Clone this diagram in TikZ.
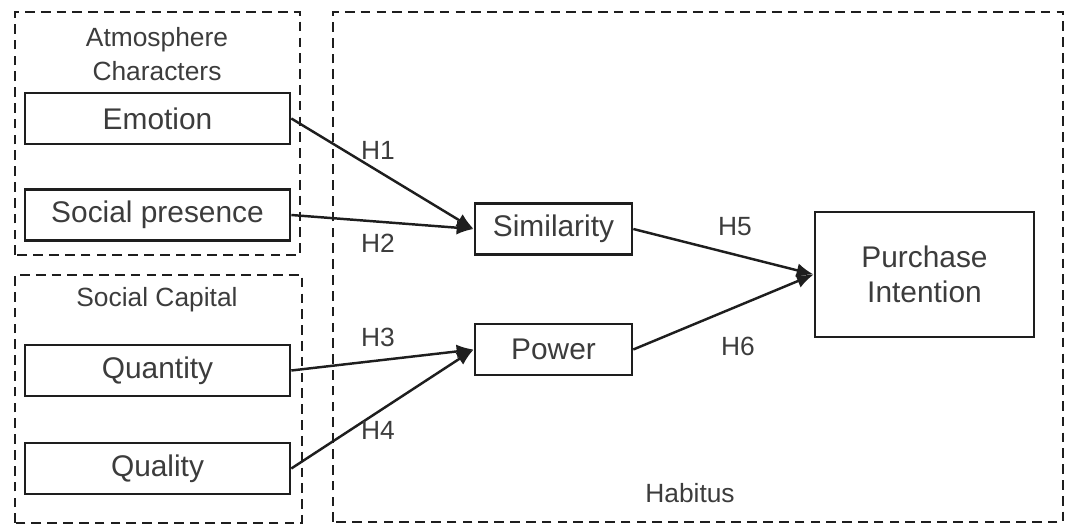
\documentclass[tikz,border=0pt]{standalone}
\usepackage{fontspec}
\setmainfont{Liberation Sans}
\usepackage{xcolor}
\definecolor{hbtext}{RGB}{60,60,60}
\definecolor{hbline}{RGB}{30,30,30}
\usetikzlibrary{arrows.meta,positioning}
\tikzset{
  varbox/.style={draw=hbline, line width=1.5pt, font=\fontsize{17}{20}\selectfont,
                 text=hbtext, minimum width=#1, minimum height=1.02cm, inner sep=2pt},
  groupbox/.style={draw=hbline, line width=1.4pt, dash pattern=on 5.5pt off 3.5pt},
  grouplabel/.style={font=\fontsize{15}{18}\selectfont, text=hbtext, align=center},
  hyp/.style={font=\fontsize{15}{18}\selectfont, text=hbtext},
  link/.style={draw=hbline, line width=1.4pt, -{Latex[length=0.34cm, width=0.28cm]}},
}

\begin{document}
\begin{tikzpicture}

\useasboundingbox (0,0) rectangle (21.3,10.54);

% Group frames
\draw[groupbox] (0.3,5.44) rectangle (6.0,10.3);
\draw[groupbox] (0.3,0.08) rectangle (6.04,5.04);
\draw[groupbox] (6.66,0.1) rectangle (21.26,10.3);

\node[grouplabel] (atmlabel) at (3.14,9.46) {Atmosphere\\[1pt]Characters};
\node[grouplabel] (caplabel) at (3.14,4.54) {Social Capital};
\node[grouplabel] (habitus) at (13.8,0.68) {Habitus};

% Antecedents
\node[varbox=5.3cm] (emotion) at (3.15,8.17) {Emotion};
\node[varbox=5.3cm] (presence) at (3.15,6.24) {Social presence};
\node[varbox=5.3cm] (quantity) at (3.15,3.13) {Quantity};
\node[varbox=5.3cm] (quality) at (3.15,1.17) {Quality};

% Habitus
\node[varbox=3.14cm] (similarity) at (11.07,5.96) {Similarity};
\node[varbox=3.14cm] (power) at (11.07,3.55) {Power};
\node[varbox=4.38cm, minimum height=2.5cm, align=center] (intention) at (18.49,5.05)
      {Purchase\\Intention};

% Paths
\draw[link] (emotion.east) -- (similarity.west);
\draw[link] (presence.east) -- (similarity.west);
\draw[link] (quantity.east) -- (power.west);
\draw[link] (quality.east) -- (power.west);
\draw[link] (similarity.east) -- (intention.west);
\draw[link] (power.east) -- (intention.west);

\node[hyp] (h1) at (7.56,7.54) {H1};
\node[hyp] (h2) at (7.56,5.68) {H2};
\node[hyp] (h3) at (7.56,3.80) {H3};
\node[hyp] (h4) at (7.56,1.94) {H4};
\node[hyp] (h5) at (14.7,6.0) {H5};
\node[hyp] (h6) at (14.76,3.62) {H6};

\end{tikzpicture}
\end{document}
